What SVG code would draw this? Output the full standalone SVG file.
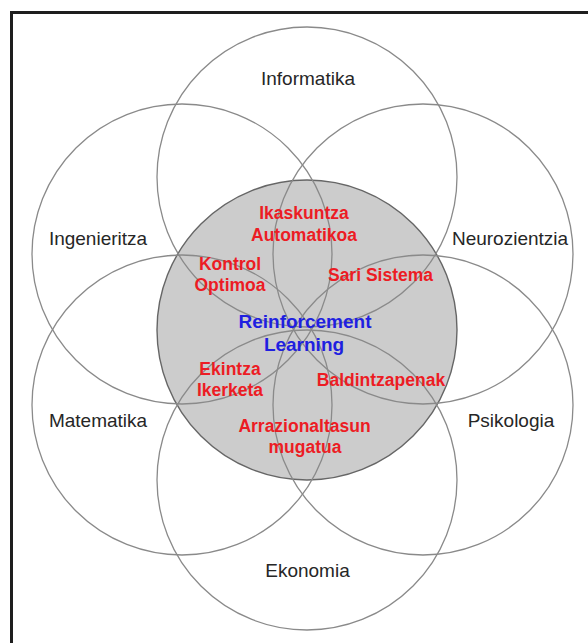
<svg xmlns="http://www.w3.org/2000/svg" width="588" height="643" viewBox="0 0 588 643">
  <style>
    .petal { fill: none; stroke: #8a8a8a; stroke-width: 1.3; }
    .core { fill: #cccccc; stroke: #666666; stroke-width: 1.4; }
    .field { font-family: "Liberation Sans", Arial, sans-serif; font-size: 19px; fill: #262626; text-anchor: middle; }
    .topic { font-family: "Liberation Sans", Arial, sans-serif; font-size: 17.5px; font-weight: bold; fill: #ec1c24; text-anchor: middle; }
    .main { font-family: "Liberation Sans", Arial, sans-serif; font-size: 19px; font-weight: bold; fill: #1f1fe0; text-anchor: middle; }
  </style>

  <rect x="0" y="0" width="588" height="643" fill="#ffffff"/>
  <!-- outer frame, open to the right and bottom -->
  <rect x="11.5" y="12.5" width="600" height="660" fill="none" stroke="#1e1e1e" stroke-width="3"/>

  <!-- central field -->
  <g id="core">
    <circle class="core" cx="307" cy="330" r="150"/>
  </g>

  <!-- surrounding disciplines -->
  <g id="informatika">
    <circle class="petal" cx="307" cy="177" r="150"/>
    <text class="field" x="308" y="85">Informatika</text>
  </g>
  <g id="ingenieritza">
    <circle class="petal" cx="182" cy="254" r="150"/>
    <text class="field" x="98" y="245">Ingenieritza</text>
  </g>
  <g id="neurozientzia">
    <circle class="petal" cx="423" cy="254" r="150"/>
    <text class="field" x="510" y="245">Neurozientzia</text>
  </g>
  <g id="matematika">
    <circle class="petal" cx="182" cy="405" r="150"/>
    <text class="field" x="98" y="427">Matematika</text>
  </g>
  <g id="psikologia">
    <circle class="petal" cx="423" cy="405" r="150"/>
    <text class="field" x="511" y="427">Psikologia</text>
  </g>
  <g id="ekonomia">
    <circle class="petal" cx="307" cy="480" r="150"/>
    <text class="field" x="307.5" y="577">Ekonomia</text>
  </g>

  <!-- overlap topics -->
  <g id="ikaskuntza-automatikoa">
    <text class="topic" x="304" y="219">Ikaskuntza</text>
    <text class="topic" x="304" y="241">Automatikoa</text>
  </g>
  <g id="kontrol-optimoa">
    <text class="topic" x="230" y="270">Kontrol</text>
    <text class="topic" x="230" y="291">Optimoa</text>
  </g>
  <g id="sari-sistema">
    <text class="topic" x="380.5" y="281">Sari Sistema</text>
  </g>
  <g id="reinforcement-learning">
    <text class="main" x="305" y="328">Reinforcement</text>
    <text class="main" x="304" y="351">Learning</text>
  </g>
  <g id="ekintza-ikerketa">
    <text class="topic" x="230" y="375">Ekintza</text>
    <text class="topic" x="230" y="396">Ikerketa</text>
  </g>
  <g id="baldintzapenak">
    <text class="topic" x="381" y="386">Baldintzapenak</text>
  </g>
  <g id="arrazionaltasun-mugatua">
    <text class="topic" x="304.5" y="432">Arrazionaltasun</text>
    <text class="topic" x="305" y="453">mugatua</text>
  </g>
</svg>
